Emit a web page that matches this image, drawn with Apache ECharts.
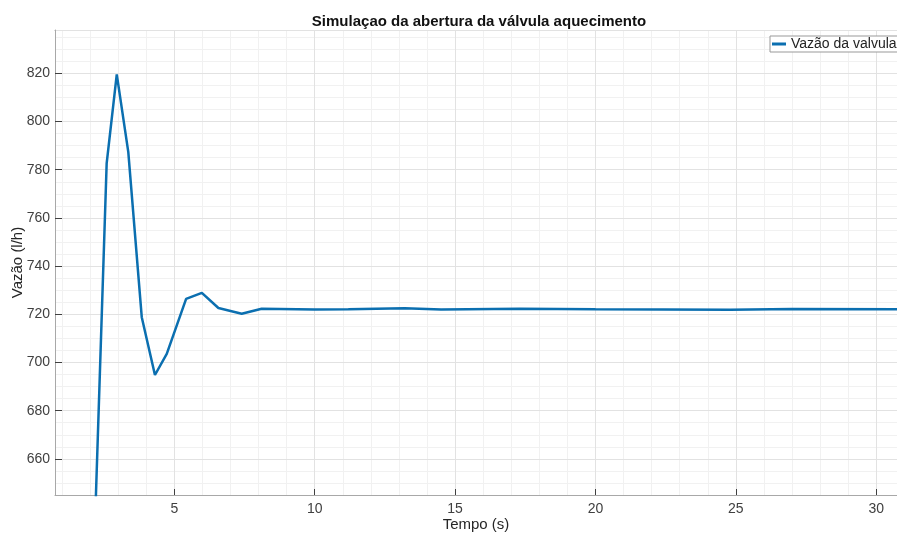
<!DOCTYPE html>
<html>
<head>
<meta charset="utf-8">
<script src="https://cdn.jsdelivr.net/npm/echarts@6/dist/echarts.min.js"></script>
<style>
html,body{margin:0;padding:0;background:#fff;}
#chart{width:897px;height:535px;}
</style>
</head>
<body>
<div id="chart"></div>
<script>
// Data
const tempo = [2.0, 2.59, 2.95, 3.36, 3.84, 4.31, 4.73, 5.42, 5.98, 6.57, 7.40, 8.11, 10.0, 11.2, 13.2, 14.5, 17.3, 20.0, 24.8, 27.0, 30.8];
const vazao = [570, 782.6, 819.6, 787.4, 718.8, 694.8, 703.6, 726.4, 728.9, 722.6, 720.2, 722.3, 722.0, 722.1, 722.5, 722.0, 722.3, 722.1, 721.9, 722.2, 722.1];
const titleText = 'Simulaçao da abertura da válvula aquecimento';
const seriesName = 'Vazão da valvula';
const xName = 'Tempo (s)';
const yName = 'Vazão (l/h)';

const xMin = 0.75, xMax = 30.74;
const yMin = 645, yMax = 838;

const font = 'Liberation Sans, Arial, Helvetica, sans-serif';
const boxColor = '#a8a8a8';
const tickColor = '#404040';
const majorGrid = '#e2e2e2';
const minorGrid = '#f1f1f1';

const chart = echarts.init(document.getElementById('chart'), null, {renderer: 'canvas'});

const option = {
  animation: false,
  backgroundColor: '#fff',
  textStyle: {fontFamily: font},
  title: {
    text: titleText,
    left: 474, top: 9, textAlign: 'center',
    textStyle: {fontSize: 15, fontWeight: 'bold', color: '#111', fontFamily: font}
  },
  legend: {
    left: 770, top: 36,
    padding: [1, 2],
    itemWidth: 14, itemHeight: 3, icon: 'rect',
    borderColor: '#999', borderWidth: 1, borderRadius: 0,
    backgroundColor: '#fff',
    textStyle: {fontSize: 14, color: '#222', fontFamily: font},
    data: [seriesName]
  },
  grid: {left: 55, right: 0, top: 30, bottom: 40, containLabel: false, outerBoundsMode: 'none'},
  xAxis: [
    { // bottom major
      type: 'value', position: 'bottom', min: xMin, max: xMax, splitNumber: 6,
      name: xName, nameLocation: 'middle', nameGap: 22, nameMoveOverlap: false,
      nameTextStyle: {fontSize: 15, color: '#262626', fontFamily: font},
      axisLine: {show: true, onZero: false, lineStyle: {color: boxColor, width: 1}},
      axisTick: {show: true, inside: true, length: 6, lineStyle: {color: tickColor}},
      axisLabel: {show: true, margin: 7, fontSize: 14, color: '#404040', fontFamily: font,
        showMinLabel: false, showMaxLabel: false},
      splitLine: {show: true, lineStyle: {color: majorGrid, width: 1}},
      z: 3
    },
    { // top box
      type: 'value', position: 'top', min: xMin, max: xMax, splitNumber: 6,
      axisLine: {show: true, onZero: false, lineStyle: {color: boxColor, width: 1}},
      axisTick: {show: true, inside: true, length: 6, lineStyle: {color: tickColor}},
      axisLabel: {show: false},
      splitLine: {show: false}
    },
    { // minor grid
      type: 'value', position: 'bottom', min: xMin, max: xMax, splitNumber: 30,
      axisLine: {show: false}, axisTick: {show: false}, axisLabel: {show: false},
      splitLine: {show: true, lineStyle: {color: minorGrid, width: 1}},
      z: 0
    }
  ],
  yAxis: [
    { // left major
      type: 'value', position: 'left', min: yMin, max: yMax, splitNumber: 10,
      name: yName, nameLocation: 'middle', nameGap: 30, nameMoveOverlap: false,
      nameTextStyle: {fontSize: 15, color: '#262626', fontFamily: font},
      axisLine: {show: true, onZero: false, lineStyle: {color: boxColor, width: 1}},
      axisTick: {show: true, inside: true, length: 7, lineStyle: {color: tickColor}},
      axisLabel: {show: true, margin: 5, fontSize: 14, color: '#404040', fontFamily: font,
        showMinLabel: false, showMaxLabel: false},
      splitLine: {show: true, lineStyle: {color: majorGrid, width: 1}},
      z: 3
    },
    { // right box
      type: 'value', position: 'right', min: yMin, max: yMax, splitNumber: 10,
      axisLine: {show: true, onZero: false, lineStyle: {color: boxColor, width: 1}},
      axisTick: {show: true, inside: true, length: 7, lineStyle: {color: tickColor}},
      axisLabel: {show: false},
      splitLine: {show: false}
    },
    { // minor grid
      type: 'value', position: 'left', min: yMin, max: yMax, splitNumber: 39,
      axisLine: {show: false}, axisTick: {show: false}, axisLabel: {show: false},
      splitLine: {show: true, lineStyle: {color: minorGrid, width: 1}},
      z: 0
    }
  ],
  series: [{
    name: seriesName,
    type: 'line',
    xAxisIndex: 0, yAxisIndex: 0,
    data: tempo.map((t, i) => [t, vazao[i]]),
    showSymbol: false, symbol: 'none',
    clip: true,
    lineStyle: {color: '#0b6fb0', width: 2.5},
    itemStyle: {color: '#0b6fb0'},
    z: 5
  }]
};
chart.setOption(option);
</script>
</body>
</html>
